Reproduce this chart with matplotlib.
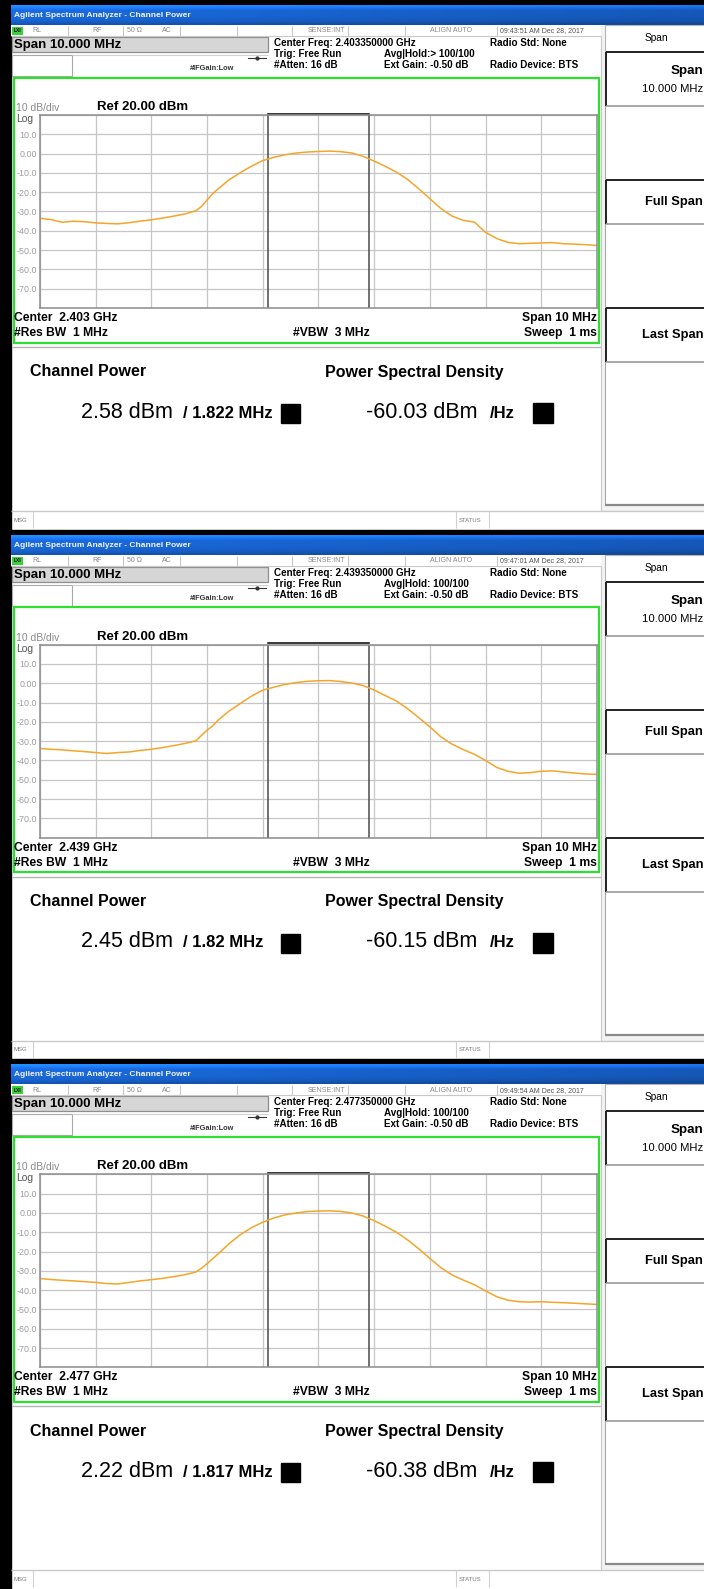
import matplotlib
matplotlib.use("Agg")
import matplotlib.pyplot as plt
import numpy as np
from matplotlib.patches import Rectangle

W, H = 704, 1589
PANEL_H = H / 3

plt.rcParams["font.family"] = ["Liberation Sans", "DejaVu Sans"]

# sweep settings
ref_level = 20.0
db_per_div = 10
span_mhz = 10
y_tick_labels = ["10.0", "0.00", "-10.0", "-20.0", "-30.0", "-40.0", "-50.0", "-60.0", "-70.0"]

# trace points, MHz offset from centre frequency
freq_mhz = [-5.0, -4.8, -4.6, -4.4, -4.2, -4.0, -3.8, -3.6, -3.4, -3.2, -3.0, -2.8,
            -2.6, -2.4, -2.2, -2.1, -2.0, -1.9, -1.8, -1.6, -1.4, -1.2, -1.0, -0.8,
            -0.6, -0.4, -0.2, 0.0, 0.2, 0.4, 0.6, 0.8, 1.0, 1.2, 1.4, 1.6, 1.8, 2.0,
            2.2, 2.4, 2.6, 2.8, 3.0, 3.2, 3.4, 3.6, 3.8, 4.0, 4.2, 4.4, 4.6, 4.8, 5.0]

level_ch1 = [-33.5, -34.2, -35.6, -35.0, -35.3, -35.9, -36.2, -36.4, -35.8, -35.0, -34.3, -33.4,
             -32.4, -31.3, -29.6, -27.4, -24.0, -20.8, -18.2, -13.5, -9.8, -6.5, -3.6, -1.9,
             -0.6, 0.3, 0.8, 1.1, 1.3, 1.0, 0.3, -1.4, -3.9, -6.6, -9.6, -13.4, -18.2, -23.4,
             -28.5, -32.4, -34.6, -35.5, -40.8, -44.0, -46.0, -46.7, -46.5, -46.3, -46.1, -46.7,
             -46.9, -47.2, -47.6]
level_ch2 = [-33.8, -34.2, -34.5, -35.0, -35.4, -35.9, -36.4, -35.9, -35.6, -34.8, -34.2, -33.3,
             -32.3, -31.2, -29.8, -27.0, -24.3, -22.1, -19.0, -14.3, -10.4, -6.6, -3.6, -2.0,
             -0.6, 0.4, 1.0, 1.3, 1.4, 0.9, 0.1, -1.2, -3.5, -6.4, -9.2, -13.2, -17.8, -22.6,
             -27.8, -31.6, -34.4, -36.8, -40.0, -43.6, -45.6, -46.6, -46.3, -45.6, -45.4, -46.0,
             -46.5, -47.0, -47.2]
level_ch3 = [-34.0, -34.5, -34.9, -35.2, -35.6, -36.0, -36.6, -36.8, -36.0, -35.2, -34.6, -33.9,
             -33.0, -32.0, -30.6, -28.6, -26.3, -23.7, -21.2, -15.8, -11.2, -7.6, -4.8, -2.6,
             -1.0, 0.0, 0.7, 1.0, 1.1, 0.8, 0.0, -1.6, -4.0, -6.9, -10.0, -14.0, -18.6, -23.6,
             -28.4, -32.2, -34.8, -37.2, -40.4, -43.4, -45.2, -46.0, -46.2, -46.0, -46.3, -46.5,
             -46.8, -47.1, -47.4]
trace_levels = [level_ch1, level_ch2, level_ch3]

# per-measurement readouts
center_ghz = ["2.403", "2.439", "2.477"]
center_freq = ["2.403350000", "2.439350000", "2.477350000"]
timestamps = ["09:43:51 AM Dec 28, 2017", "09:47:01 AM Dec 28, 2017", "09:49:54 AM Dec 28, 2017"]
avg_hold = ["Avg|Hold:> 100/100", "Avg|Hold: 100/100", "Avg|Hold: 100/100"]
channel_power = ["2.58", "2.45", "2.22"]
channel_bw = ["1.822", "1.82", "1.817"]
psd = ["-60.03", "-60.15", "-60.38"]

status_cells = [68, 123, 180, 237, 292, 348, 405, 497]

# title bar shading: lighter top edge, darker towards the right
_v = np.array([1.35, 1.15, 1.0, 1.0, 1.0, 0.98, 0.95, 0.9, 0.8])[:, None]
_h = np.linspace(1.0, 0.82, 64)[None, :]
_base = np.array([0.10, 0.42, 0.88])
title_grad = np.clip(_base[None, None, :] * (_v * _h)[:, :, None], 0, 1)


def line(ax, xs, ys, color, lw=0.8):
    ax.plot(xs, ys, color=color, lw=lw, solid_capstyle="butt")


def draw_panel(fig, ov, k):
    o = k * PANEL_H

    # window chrome
    ov.add_patch(Rectangle((0, o), W, 5, color="black"))
    ov.add_patch(Rectangle((0, o), 11, PANEL_H, color="black"))
    ov.imshow(title_grad, extent=(11, W, o + 25, o + 5), aspect="auto",
              interpolation="bilinear", zorder=1)
    ov.text(14, o + 15.5, "Agilent Spectrum Analyzer - Channel Power", color="#f4f4f4",
            fontsize=6, fontweight="bold", va="center")

    # status row
    ov.add_patch(Rectangle((11, o + 25), 590, 11, fc="white", ec="none"))
    for x in status_cells:
        line(ov, [x, x], [o + 26, o + 36], "#c8c8c8")
    line(ov, [11, 601], [o + 36, o + 36], "#c8c8c8")
    ov.add_patch(Rectangle((12, o + 27), 11, 8, fc="#3ccf3c", ec="none"))
    ov.text(17.5, o + 31, "LXI", fontsize=3.5, fontweight="bold", ha="center", va="center")
    for x, s in [(32, "RL"), (92, "RF"), (127, "50 Ω"), (162, "AC"),
                 (308, "SENSE:INT"), (430, "ALIGN AUTO")]:
        ov.text(x, o + 31, s, fontsize=5, color="#8a8a8a", va="center")
    ov.text(500, o + 31, timestamps[k], fontsize=5, color="#555555", va="center")

    # span entry area
    ov.add_patch(Rectangle((12, o + 37), 256, 15, fc="#d6d6d6", ec="#8e8e8e", lw=0.9))
    ov.text(14, o + 45, "Span 10.000 MHz", fontsize=9.5, fontweight="bold", va="center")
    ov.add_patch(Rectangle((12, o + 55), 60, 21, fc="white", ec="#a8a8a8", lw=0.8))
    line(ov, [72, 268], [o + 55, o + 55], "#d0d0d0")
    ov.text(190, o + 69, "#IFGain:Low", fontsize=5.3, fontweight="bold", color="#333333",
            va="center")
    ov.plot([248, 266], [o + 58, o + 58], color="#333333", lw=0.8)
    ov.plot([257], [o + 58], "o", ms=2, color="#333333")

    hdr = dict(fontsize=7.1, fontweight="bold", va="center")
    ov.text(274, o + 43, f"Center Freq: {center_freq[k]} GHz", **hdr)
    ov.text(274, o + 54, "Trig: Free Run", **hdr)
    ov.text(274, o + 65, "#Atten: 16 dB", **hdr)
    ov.text(384, o + 54, avg_hold[k], **hdr)
    ov.text(384, o + 65, "Ext Gain: -0.50 dB", **hdr)
    ov.text(490, o + 43, "Radio Std: None", **hdr)
    ov.text(490, o + 65, "Radio Device: BTS", **hdr)

    # trace window frame and annotations
    ov.add_patch(Rectangle((13.5, o + 77.5), 585, 265, fill=False, ec="#2ee02e", lw=1.6))
    ov.text(16, o + 108, "10 dB/div", fontsize=7.5, color="#8a8a8a", va="center")
    ov.text(97, o + 107, f"Ref {ref_level:.2f} dBm", fontsize=9.5, fontweight="bold",
            va="center")
    ov.text(16, o + 119, "Log", fontsize=7.5, color="#555555", va="center")
    bold8 = dict(fontsize=8.7, fontweight="bold", va="center")
    ov.text(14, o + 318, f"Center  {center_ghz[k]} GHz", **bold8)
    ov.text(14, o + 333, "#Res BW  1 MHz", **bold8)
    ov.text(293, o + 333, "#VBW  3 MHz", **bold8)
    ov.text(597, o + 318, f"Span {span_mhz} MHz", ha="right", **bold8)
    ov.text(597, o + 333, "Sweep  1 ms", ha="right", **bold8)

    line(ov, [12, 601], [o + 347, o + 347], "#b4b4b4", lw=1.0)
    line(ov, [601, 601], [o + 36, o + 511], "#c8c8c8")

    # measurement results
    ov.text(30, o + 372, "Channel Power", fontsize=11.5, fontweight="bold", va="center")
    ov.text(325, o + 372, "Power Spectral Density", fontsize=11.5, fontweight="bold",
            va="center")
    ov.text(81, o + 412, f"{channel_power[k]} dBm", fontsize=15.5, va="center")
    ov.text(183, o + 413, f"/ {channel_bw[k]} MHz", fontsize=12, fontweight="bold",
            va="center")
    ov.add_patch(Rectangle((281, o + 404), 19, 19, color="black"))
    ov.text(366, o + 412, f"{psd[k]} dBm", fontsize=15.5, va="center")
    ov.text(490, o + 413, "/Hz", fontsize=12, fontweight="bold", va="center")
    ov.add_patch(Rectangle((533, o + 403), 20, 20, color="black"))

    # message bar
    line(ov, [11, W], [o + 511, o + 511], "#c8c8c8", lw=1.0)
    for x in [33, 456, 489]:
        line(ov, [x, x], [o + 511, o + 528], "#d0d0d0")
    ov.text(13, o + 520, "MSG", fontsize=4.3, color="#777777", va="center")
    ov.text(459, o + 520, "STATUS", fontsize=4.3, color="#777777", va="center")

    # softkey column
    ov.add_patch(Rectangle((601, o + 25), W - 601, 486, fc="#f3f3f3", ec="none"))
    ov.add_patch(Rectangle((605, o + 25), 120, 27, fc="white", ec="#b4b4b4", lw=0.8))
    ov.add_patch(Rectangle((605, o + 52), 120, 453, fc="white", ec="none"))
    line(ov, [605, 605], [o + 52, o + 505], "#a8a8a8")
    line(ov, [605, W], [o + 505, o + 505], "#8a8a8a", lw=1.6)
    for top, bot in [(52, 106), (180, 224), (308, 362)]:
        line(ov, [606, 606], [o + top, o + bot], "#222222", lw=1.4)
        line(ov, [606, W], [o + top, o + top], "#222222", lw=1.4)
        line(ov, [606, W], [o + bot, o + bot], "#9a9a9a", lw=1.2)
    # softkey labels sit flush against the right screen edge
    ov.text(645, o + 38, "Span", fontsize=7.3, va="center")
    ov.text(703, o + 71, "Span", fontsize=9.6, fontweight="bold", ha="right", va="center")
    ov.text(703, o + 89, "10.000 MHz", fontsize=8.1, ha="right", va="center")
    ov.text(703, o + 202, "Full Span", fontsize=9.3, fontweight="bold", ha="right",
            va="center")
    ov.text(703, o + 335, "Last Span", fontsize=9.3, fontweight="bold", ha="right",
            va="center")

    # graticule with trace
    gx = fig.add_axes([40 / W, 1 - (o + 308) / H, 557 / W, 193 / H])
    gx.set_xlim(-span_mhz / 2, span_mhz / 2)
    gx.set_ylim(ref_level - 10 * db_per_div, ref_level)
    gx.set_xticks(np.arange(-5, 6, 1))
    gx.set_xticklabels([])
    yt = np.arange(ref_level, ref_level - 10 * db_per_div - 1, -db_per_div)
    gx.set_yticks(yt)
    gx.set_yticklabels([""] + y_tick_labels + [""])
    gx.grid(True, color="#c6c6c6", lw=0.9)
    gx.tick_params(length=0, pad=2, labelsize=6.4, labelcolor="#9e9e9e")
    for s in gx.spines.values():
        s.set_color("#8c8c8c")
        s.set_linewidth(1.1)
    half = float(channel_bw[k]) / 2
    gx.axvline(-half, color="#4a4a4a", lw=1.1)
    gx.axvline(half, color="#4a4a4a", lw=1.1)
    gx.plot([-half, half], [ref_level + 0.7, ref_level + 0.7], color="black", lw=1.1,
            clip_on=False)
    gx.plot(freq_mhz, trace_levels[k], color="#f4a52a", lw=1.1)


fig = plt.figure(figsize=(W / 100, H / 100), dpi=100)
ov = fig.add_axes([0, 0, 1, 1])
ov.axis("off")

for k in range(3):
    draw_panel(fig, ov, k)

ov.set_xlim(0, W)
ov.set_ylim(H, 0)
fig.savefig("out.png", dpi=100)
plt.close(fig)
